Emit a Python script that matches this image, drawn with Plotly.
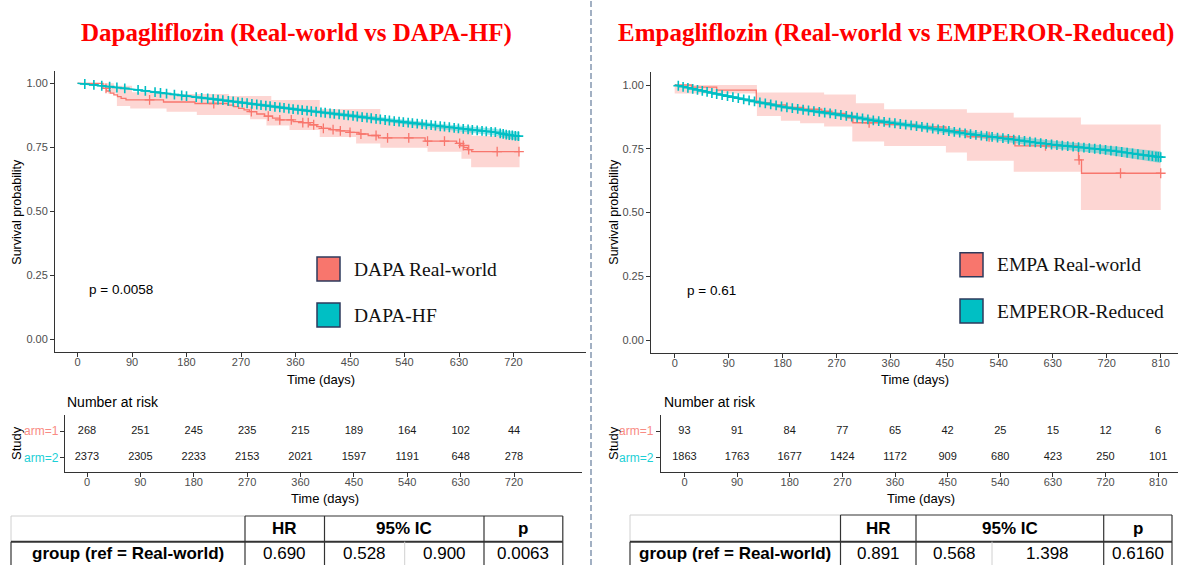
import numpy as np
import plotly.graph_objects as go

W, H = 1178, 565
SANS = "Liberation Sans, Arial, sans-serif"
SERIF = "Liberation Serif, Times New Roman, serif"
RED = "#F8766D"
TEAL = "#00BFC4"
RED_FILL = "rgba(248,118,109,0.30)"
TEAL_FILL = "rgba(0,191,196,0.38)"

# ---------------- Data: Dapagliflozin ----------------
dapa_rw_t = [0, 42, 48, 54, 60, 66, 72, 80, 142, 194, 248, 258, 266, 275, 284, 296, 309, 322, 334, 356, 372, 384, 395, 403, 418, 434, 450, 465, 480, 497, 574, 626, 632, 638, 644, 651, 730]
dapa_rw_s = [1.0, 0.98, 0.97, 0.962, 0.955, 0.948, 0.941, 0.935, 0.927, 0.921, 0.915, 0.909, 0.902, 0.896, 0.889, 0.88, 0.872, 0.864, 0.857, 0.85, 0.846, 0.838, 0.831, 0.824, 0.819, 0.814, 0.808, 0.802, 0.796, 0.787, 0.774, 0.765, 0.757, 0.749, 0.741, 0.733, 0.733]
dapa_rw_lo_t = [0, 40, 50, 65, 87, 147, 197, 285, 312, 350, 400, 460, 500, 578, 634, 650, 730]
dapa_rw_lo = [1.0, 0.985, 0.96, 0.911, 0.902, 0.889, 0.876, 0.86, 0.835, 0.818, 0.79, 0.765, 0.748, 0.733, 0.705, 0.672, 0.672]
dapa_rw_up_t = [0, 40, 60, 90, 150, 250, 320, 400, 500, 574, 626, 651, 730]
dapa_rw_up = [1.0, 1.0, 0.99, 0.965, 0.958, 0.95, 0.935, 0.9, 0.85, 0.83, 0.815, 0.795, 0.795]
dapa_rw_cens = [47, 119, 225, 287, 315, 334, 353, 372, 381, 390, 406, 422, 434, 450, 468, 493, 512, 547, 578, 606, 631, 637, 646, 693, 729]

dapa_hf_t = [0, 30, 60, 90, 120, 150, 180, 210, 240, 270, 300, 330, 360, 390, 420, 450, 480, 510, 540, 570, 600, 630, 660, 690, 705, 715, 730]
dapa_hf_s = [1.0, 0.993, 0.985, 0.977, 0.968, 0.959, 0.950, 0.942, 0.934, 0.925, 0.916, 0.907, 0.898, 0.890, 0.882, 0.874, 0.865, 0.856, 0.848, 0.840, 0.832, 0.824, 0.816, 0.809, 0.801, 0.797, 0.793]
dapa_hf_lo = [1.0, 0.991, 0.982, 0.973, 0.964, 0.954, 0.945, 0.936, 0.928, 0.919, 0.909, 0.900, 0.891, 0.882, 0.874, 0.866, 0.856, 0.847, 0.838, 0.830, 0.821, 0.813, 0.804, 0.796, 0.787, 0.782, 0.776]
dapa_hf_up = [1.0, 0.995, 0.988, 0.981, 0.972, 0.964, 0.955, 0.948, 0.940, 0.931, 0.923, 0.914, 0.905, 0.898, 0.890, 0.882, 0.874, 0.865, 0.858, 0.850, 0.841, 0.835, 0.828, 0.822, 0.815, 0.812, 0.810]
dapa_hf_cens = [12, 27, 40, 53, 65, 78, 100, 112, 128, 137, 147, 160, 172, 180, 196, 205, 215, 224, 232, 240, 249, 257, 265, 272, 280, 288, 296, 303, 311, 318, 326, 334, 341, 349, 356, 364, 371, 379, 386, 394, 402, 409, 417, 424, 432, 440, 447, 455, 462, 470, 478, 485, 493, 500, 508, 515, 523, 531, 538, 546, 553, 561, 569, 576, 584, 591, 599, 606, 614, 622, 629, 637, 645, 652, 660, 668, 675, 683, 690, 698, 703, 708, 713, 718, 723, 728]

# ---------------- Data: Empagliflozin ----------------
empa_rw_t = [0, 28, 70, 136, 160, 185, 215, 245, 262, 285, 297, 350, 400, 452, 487, 567, 673, 678, 810]
empa_rw_s = [1.0, 0.992, 0.98, 0.93, 0.922, 0.912, 0.905, 0.897, 0.889, 0.872, 0.852, 0.845, 0.836, 0.82, 0.797, 0.761, 0.706, 0.654, 0.654]
empa_rw_lo_t = [0, 137, 177, 209, 249, 296, 349, 452, 487, 565, 677, 810]
empa_rw_lo = [0.967, 0.878, 0.86, 0.85, 0.837, 0.778, 0.761, 0.735, 0.703, 0.66, 0.51, 0.51]
empa_rw_up_t = [0, 137, 249, 302, 349, 487, 565, 677, 810]
empa_rw_up = [1.0, 0.971, 0.963, 0.928, 0.905, 0.891, 0.873, 0.845, 0.845]
empa_rw_cens = [296, 324, 524, 618, 674, 743, 810]

emperor_t = [0, 30, 65, 100, 134, 160, 184, 220, 259, 300, 334, 370, 409, 445, 484, 520, 559, 600, 634, 670, 709, 740, 770, 810]
emperor_s = [1.0, 0.985, 0.967, 0.951, 0.935, 0.924, 0.913, 0.901, 0.889, 0.874, 0.860, 0.849, 0.837, 0.824, 0.810, 0.799, 0.788, 0.775, 0.765, 0.757, 0.748, 0.739, 0.729, 0.717]
emperor_lo = [1.0, 0.982, 0.963, 0.946, 0.929, 0.918, 0.906, 0.894, 0.881, 0.866, 0.851, 0.840, 0.827, 0.813, 0.799, 0.787, 0.775, 0.761, 0.750, 0.741, 0.731, 0.720, 0.709, 0.694]
emperor_up = [1.0, 0.988, 0.971, 0.956, 0.941, 0.930, 0.920, 0.908, 0.897, 0.882, 0.869, 0.858, 0.847, 0.835, 0.821, 0.811, 0.801, 0.789, 0.780, 0.773, 0.765, 0.758, 0.749, 0.740]
emperor_cens = [6, 14, 22, 30, 38, 46, 54, 62, 70, 79, 88, 97, 106, 115, 124, 133, 142, 151, 160, 169, 178, 187, 196, 205, 214, 223, 232, 241, 250, 259, 268, 277, 286, 295, 304, 313, 322, 331, 340, 349, 358, 367, 376, 385, 394, 403, 412, 421, 430, 439, 448, 457, 466, 475, 484, 493, 502, 511, 520, 529, 538, 547, 556, 565, 574, 583, 592, 601, 610, 619, 628, 637, 646, 655, 664, 673, 682, 691, 700, 709, 718, 727, 736, 745, 754, 763, 772, 781, 790, 796, 802, 806, 810]

# ---------------- Number at risk ----------------
risk_t_dapa = [0, 90, 180, 270, 360, 450, 540, 630, 720]
risk_dapa_arm1 = [268, 251, 245, 235, 215, 189, 164, 102, 44]
risk_dapa_arm2 = [2373, 2305, 2233, 2153, 2021, 1597, 1191, 648, 278]
risk_t_empa = [0, 90, 180, 270, 360, 450, 540, 630, 720, 810]
risk_empa_arm1 = [93, 91, 84, 77, 65, 42, 25, 15, 12, 6]
risk_empa_arm2 = [1863, 1763, 1677, 1424, 1172, 909, 680, 423, 250, 101]

# ---------------- Text ----------------
title_dapa = "Dapagliflozin (Real-world vs DAPA-HF)"
title_empa = "Empagliflozin (Real-world vs EMPEROR-Reduced)"
legend_dapa = ["DAPA Real-world", "DAPA-HF"]
legend_empa = ["EMPA Real-world", "EMPEROR-Reduced"]
pval_dapa = "p = 0.0058"
pval_empa = "p = 0.61"
y_ticks = [0, 0.25, 0.5, 0.75, 1.0]
y_tick_text = ["0.00", "0.25", "0.50", "0.75", "1.00"]
tbl_header = ["HR", "95% IC", "p"]
tbl_row_label = "group (ref = Real-world)"
tbl_dapa_vals = ["0.690", "0.528", "0.900", "0.0063"]
tbl_empa_vals = ["0.891", "0.568", "1.398", "0.6160"]


def px(x):
    return x / W


def py(y):
    return 1 - y / H


def step_at(ts, ss, x):
    i = int(np.searchsorted(ts, x, side="right")) - 1
    return ss[max(i, 0)]


fig = go.Figure()


def add_km(xa, ya, rt, rs, rlt, rl, rut, ru, rc, tt, ts, tl, tu, tc):
    common = dict(xaxis=xa, yaxis=ya, hoverinfo="skip", showlegend=False)
    fig.add_trace(go.Scatter(x=rut, y=ru, mode="lines", line=dict(width=0, shape="hv"), **common))
    fig.add_trace(go.Scatter(x=rlt, y=rl, mode="lines", line=dict(width=0, shape="hv"),
                             fill="tonexty", fillcolor=RED_FILL, **common))
    fig.add_trace(go.Scatter(x=tt, y=tu, mode="lines", line=dict(width=0), **common))
    fig.add_trace(go.Scatter(x=tt, y=tl, mode="lines", line=dict(width=0),
                             fill="tonexty", fillcolor=TEAL_FILL, **common))
    fig.add_trace(go.Scatter(x=rt, y=rs, mode="lines", line=dict(color=RED, width=1.3, shape="hv"), **common))
    fig.add_trace(go.Scatter(x=tt, y=ts, mode="lines", line=dict(color=TEAL, width=1.6), **common))
    fig.add_trace(go.Scatter(x=rc, y=[step_at(rt, rs, c) for c in rc], mode="markers",
                             marker=dict(symbol="cross-thin", size=7, line=dict(color=RED, width=1.3)), **common))
    fig.add_trace(go.Scatter(x=tc, y=list(np.interp(tc, tt, ts)), mode="markers",
                             marker=dict(symbol="cross-thin", size=7, line=dict(color=TEAL, width=1.6)), **common))


add_km("x", "y", dapa_rw_t, dapa_rw_s, dapa_rw_lo_t, dapa_rw_lo, dapa_rw_up_t, dapa_rw_up, dapa_rw_cens,
       dapa_hf_t, dapa_hf_s, dapa_hf_lo, dapa_hf_up, dapa_hf_cens)
add_km("x2", "y2", empa_rw_t, empa_rw_s, empa_rw_lo_t, empa_rw_lo, empa_rw_up_t, empa_rw_up, empa_rw_cens,
       emperor_t, emperor_s, emperor_lo, emperor_up, emperor_cens)

# risk table numbers
for xa, ya, tms, a1, a2 in [("x3", "y3", risk_t_dapa, risk_dapa_arm1, risk_dapa_arm2),
                            ("x4", "y4", risk_t_empa, risk_empa_arm1, risk_empa_arm2)]:
    fig.add_trace(go.Scatter(x=tms, y=[2] * len(tms), mode="text", text=[str(v) for v in a1],
                             textfont=dict(family=SANS, size=11, color="#1a1a1a"),
                             xaxis=xa, yaxis=ya, hoverinfo="skip", showlegend=False))
    fig.add_trace(go.Scatter(x=tms, y=[1] * len(tms), mode="text", text=[str(v) for v in a2],
                             textfont=dict(family=SANS, size=11, color="#1a1a1a"),
                             xaxis=xa, yaxis=ya, hoverinfo="skip", showlegend=False))

axis_common = dict(showline=True, linecolor="#333333", linewidth=1, ticks="outside", ticklen=4,
                   tickcolor="#333333", tickwidth=1, showgrid=False, zeroline=False,
                   tickfont=dict(family=SANS, size=11, color="#4D4D4D"), fixedrange=True)
xaxis_common = dict(axis_common, ticklabelstandoff=-4)

layout = dict(
    width=W, height=H, margin=dict(l=0, r=0, t=0, b=0), paper_bgcolor="white", plot_bgcolor="rgba(0,0,0,0)",
    showlegend=False,
    xaxis=dict(domain=[px(55), px(586)], range=[-37.2, 839.7], tickvals=risk_t_dapa, anchor="y", **xaxis_common),
    yaxis=dict(domain=[py(352.1), py(70.5)], range=[-0.05, 1.05], tickvals=y_ticks, ticktext=y_tick_text,
               anchor="x", **axis_common),
    xaxis2=dict(domain=[px(651), 1.0], range=[-39.5, 838.8], tickvals=risk_t_empa, anchor="y2", **xaxis_common),
    yaxis2=dict(domain=[py(352.75), py(72.25)], range=[-0.05, 1.05], tickvals=y_ticks, ticktext=y_tick_text,
                anchor="x2", **axis_common),
    xaxis3=dict(domain=[px(65), px(582)], range=[-37.1, 834.6], tickvals=risk_t_dapa, anchor="y3", **xaxis_common),
    yaxis3=dict(domain=[py(471.7), py(415)], range=[0.475, 2.6], tickvals=[1, 2], ticktext=[" ", " "],
                anchor="x3", **axis_common),
    xaxis4=dict(domain=[px(661), 1.0], range=[-40.1, 843.9], tickvals=risk_t_empa, anchor="y4", **xaxis_common),
    yaxis4=dict(domain=[py(471.7), py(415)], range=[0.475, 2.6], tickvals=[1, 2], ticktext=[" ", " "],
                anchor="x4", **axis_common),
)
fig.update_layout(**layout)

annotations = []
shapes = []


def ann(text, x, y, size, color="black", family=SANS, xanchor="center", angle=0):
    annotations.append(dict(text=text, x=px(x), y=py(y), xref="paper", yref="paper", showarrow=False,
                            xanchor=xanchor, yanchor="middle", textangle=angle,
                            font=dict(family=family, size=size, color=color)))


# titles
ann("<b>" + title_dapa + "</b>", 296.5, 33, 25, color="#FF0000", family=SERIF)
ann("<b>" + title_empa + "</b>", 896, 33, 25, color="#FF0000", family=SERIF)

# axis titles
ann("Survival probability", 17, 211.7, 12.5, angle=-90)
ann("Survival probability", 614, 211.7, 12.5, angle=-90)
ann("Time (days)", 320.5, 379, 13)
ann("Time (days)", 915, 379, 13)
ann("Time (days)", 325, 498, 13)
ann("Time (days)", 921, 498, 13)

# p-values
ann(pval_dapa, 87, 289, 13.5, xanchor="left")
ann(pval_empa, 684.5, 290, 13.5, xanchor="left")

# risk table labels
ann("Number at risk", 65, 401.5, 14, xanchor="left")
ann("Number at risk", 662, 401.5, 14, xanchor="left")
ann("Study", 16, 443, 13, angle=-90)
ann("Study", 613, 443, 13, angle=-90)
ann("arm=1", 61, 431, 12, color="#F98B84", xanchor="right")
ann("arm=2", 61, 458, 12, color="#1CCFD6", xanchor="right")
ann("arm=1", 656, 431, 12, color="#F98B84", xanchor="right")
ann("arm=2", 656, 458, 12, color="#1CCFD6", xanchor="right")

# legends
for labels, sx, y1, y2 in [(legend_dapa, 317, 257, 303), (legend_empa, 960, 252.7, 299)]:
    for lab, col, yy in [(labels[0], RED, y1), (labels[1], TEAL, y2)]:
        shapes.append(dict(type="rect", xref="paper", yref="paper", x0=px(sx), x1=px(sx + 23),
                           y0=py(yy + 24), y1=py(yy), fillcolor=col, line=dict(color="#2E3A5C", width=1.5)))
        ann(lab, sx + 35, yy + 12, 19.5, color="#111111", family=SERIF, xanchor="left")

# divider
shapes.append(dict(type="line", xref="paper", yref="paper", x0=px(591), x1=px(591), y0=0, y1=1,
                   line=dict(color="#8496B0", width=1.5, dash="6px,3px")))


def hline(x0, x1, y, color, width):
    shapes.append(dict(type="line", xref="paper", yref="paper", x0=px(x0), x1=px(x1), y0=py(y), y1=py(y),
                       line=dict(color=color, width=width)))


def vline(x, y0, y1, color, width):
    shapes.append(dict(type="line", xref="paper", yref="paper", x0=px(x), x1=px(x), y0=py(y0), y1=py(y1),
                       line=dict(color=color, width=width)))


def table(xs, top, mid, vals):
    bot = 570
    light = "#D0D0D0"
    dark = "#333333"
    hline(xs[0], xs[1], top, light, 1)
    vline(xs[0], top, mid, light, 1)
    hline(xs[1], xs[5], top, dark, 1.2)
    for xx in [xs[1], xs[2], xs[4], xs[5]]:
        vline(xx, top, mid, dark, 1.2)
    hline(xs[0], xs[5], mid, dark, 2)
    for xx in [xs[0], xs[1], xs[2], xs[4], xs[5]]:
        vline(xx, mid, bot, dark, 1.2)
    vline(xs[3], mid, bot, light, 1)
    hy = (top + mid) / 2
    dy = 553.5
    ann("<b>" + tbl_header[0] + "</b>", (xs[1] + xs[2]) / 2, hy, 17)
    ann("<b>" + tbl_header[1] + "</b>", (xs[2] + xs[4]) / 2, hy, 17)
    ann("<b>" + tbl_header[2] + "</b>", (xs[4] + xs[5]) / 2, hy, 17)
    ann("<b>" + tbl_row_label + "</b>", (xs[0] + xs[1]) / 2, dy, 17)
    centers = [(xs[1] + xs[2]) / 2, (xs[2] + xs[3]) / 2, (xs[3] + xs[4]) / 2, (xs[4] + xs[5]) / 2]
    for v, c in zip(vals, centers):
        ann(v, c, dy, 17)


table([11, 245, 324.5, 404.7, 484, 562.8], 516, 541.7, tbl_dapa_vals)
table([630, 840.5, 916, 992, 1103.7, 1172], 515, 541.7, tbl_empa_vals)

fig.update_layout(annotations=annotations, shapes=shapes)

fig.write_html("out.html", config={"displayModeBar": False, "staticPlot": True},
               post_script="document.body.style.margin='0';document.body.style.overflow='hidden';")
